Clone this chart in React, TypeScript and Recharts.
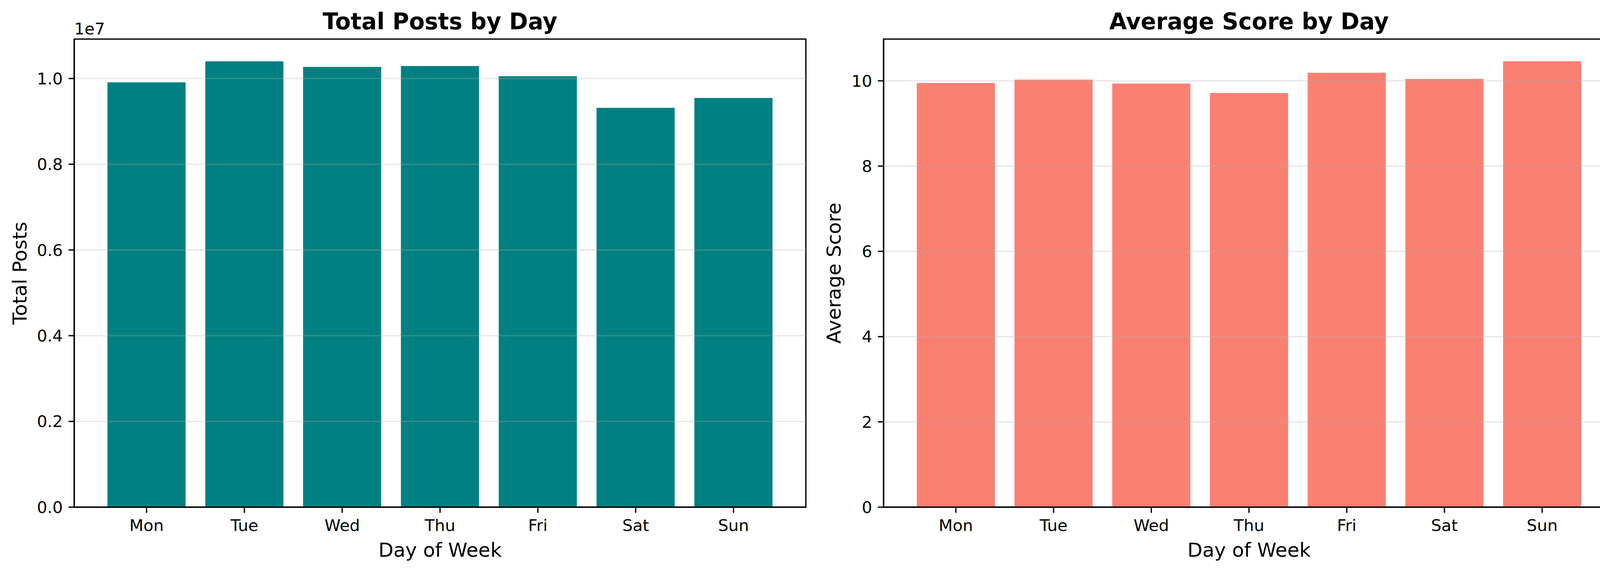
import { BarChart, Bar, XAxis, YAxis, ReferenceLine } from "recharts";

const days = ["Mon", "Tue", "Wed", "Thu", "Fri", "Sat", "Sun"];
const totalPosts = [9910000, 10400000, 10270000, 10290000, 10055000, 9315000, 9545000];
const avgScore = [9.95, 10.03, 9.935, 9.715, 10.19, 10.045, 10.46];

const postTicks = [0, 2000000, 4000000, 6000000, 8000000, 10000000];
const scoreTicks = [0, 2, 4, 6, 8, 10];
const postMax = 10920000;
const scoreMax = 10.98;

const postsData = days.map((day, i) => ({ day, value: totalPosts[i] }));
const scoreData = days.map((day, i) => ({ day, value: avgScore[i] }));

const FONT = "DejaVu Sans";
const LW = 3.3;
const TICK = 41.7;
const H = 1464;
const TOP = 100;
const BOTTOM = 166; // x-axis band (127) + outer margin (39)

type PanelProps = {
  data: { day: string; value: number }[];
  color: string;
  title: string;
  yLabel: string;
  ticks: number[];
  max: number;
  fmt: (v: number) => string;
  width: number;
  yAxisWidth: number;
  rightMargin: number;
  yLabelOffset: number;
  offsetText?: string;
};

function Panel(p: PanelProps) {
  const plotLeft = p.yAxisWidth;
  const plotRight = p.width - p.rightMargin;
  return (
    <BarChart
      width={p.width}
      height={H}
      data={p.data}
      margin={{ top: TOP, right: p.rightMargin, bottom: BOTTOM - 127, left: 0 }}
      barCategoryGap="10%"
      style={{ fontFamily: FONT }}
    >
      <XAxis
        dataKey="day"
        height={127}
        padding={{ left: 60, right: 60 }}
        tickSize={14.6}
        tickMargin={17}
        tick={{ fontSize: TICK, fill: "#000", fontFamily: FONT }}
        tickLine={{ stroke: "#000", strokeWidth: LW }}
        axisLine={{ stroke: "#000", strokeWidth: LW }}
        label={{ value: "Day of Week", position: "insideBottom", offset: 0, fontSize: 50, fill: "#000", fontFamily: FONT }}
      />
      <YAxis
        type="number"
        width={p.yAxisWidth}
        domain={[0, p.max]}
        ticks={p.ticks}
        interval={0}
        tickFormatter={p.fmt}
        tickSize={14.6}
        tickMargin={14.6}
        tick={{ fontSize: TICK, fill: "#000", fontFamily: FONT }}
        tickLine={{ stroke: "#000", strokeWidth: LW }}
        axisLine={{ stroke: "#000", strokeWidth: LW }}
        label={{
          value: p.yLabel,
          angle: -90,
          position: "insideLeft",
          offset: p.yLabelOffset,
          fontSize: 50,
          fill: "#000",
          fontFamily: FONT,
          style: { textAnchor: "middle" },
        }}
      />
      <Bar dataKey="value" fill={p.color} isAnimationActive={false} />
      {p.ticks.map((t) => (
        <ReferenceLine key={t} y={t} stroke="#b0b0b0" strokeOpacity={0.3} strokeWidth={LW} />
      ))}
      {/* axes frame (top / right spines) */}
      <rect
        x={plotLeft}
        y={TOP}
        width={plotRight - plotLeft}
        height={H - TOP - BOTTOM}
        fill="none"
        stroke="#000"
        strokeWidth={LW}
      />
      <text
        x={(plotLeft + plotRight) / 2}
        y={75}
        textAnchor="middle"
        fontSize={58}
        fontWeight="bold"
        fontFamily={FONT}
        fill="#000"
      >
        {p.title}
      </text>
      {p.offsetText && (
        <text x={plotLeft} y={88} fontSize={TICK} fontFamily={FONT} fill="#000">
          {p.offsetText}
        </text>
      )}
    </BarChart>
  );
}

export default function App() {
  return (
    <div style={{ position: "absolute", left: 0, top: 0, width: 4164, height: H, background: "#fff" }}>
      <div style={{ position: "absolute", left: 0, top: 0 }}>
        <Panel
          data={postsData}
          color="#008080"
          title="Total Posts by Day"
          yLabel="Total Posts"
          ticks={postTicks}
          max={postMax}
          fmt={(v) => (v / 1e7).toFixed(1)}
          width={2100}
          yAxisWidth={190}
          rightMargin={37}
          yLabelOffset={50}
          offsetText="1e7"
        />
      </div>
      <div style={{ position: "absolute", left: 2082, top: 0 }}>
        <Panel
          data={scoreData}
          color="#FA8072"
          title="Average Score by Day"
          yLabel="Average Score"
          ticks={scoreTicks}
          max={scoreMax}
          fmt={(v) => String(v)}
          width={2082}
          yAxisWidth={180}
          rightMargin={31}
          yLabelOffset={52}
        />
      </div>
    </div>
  );
}
